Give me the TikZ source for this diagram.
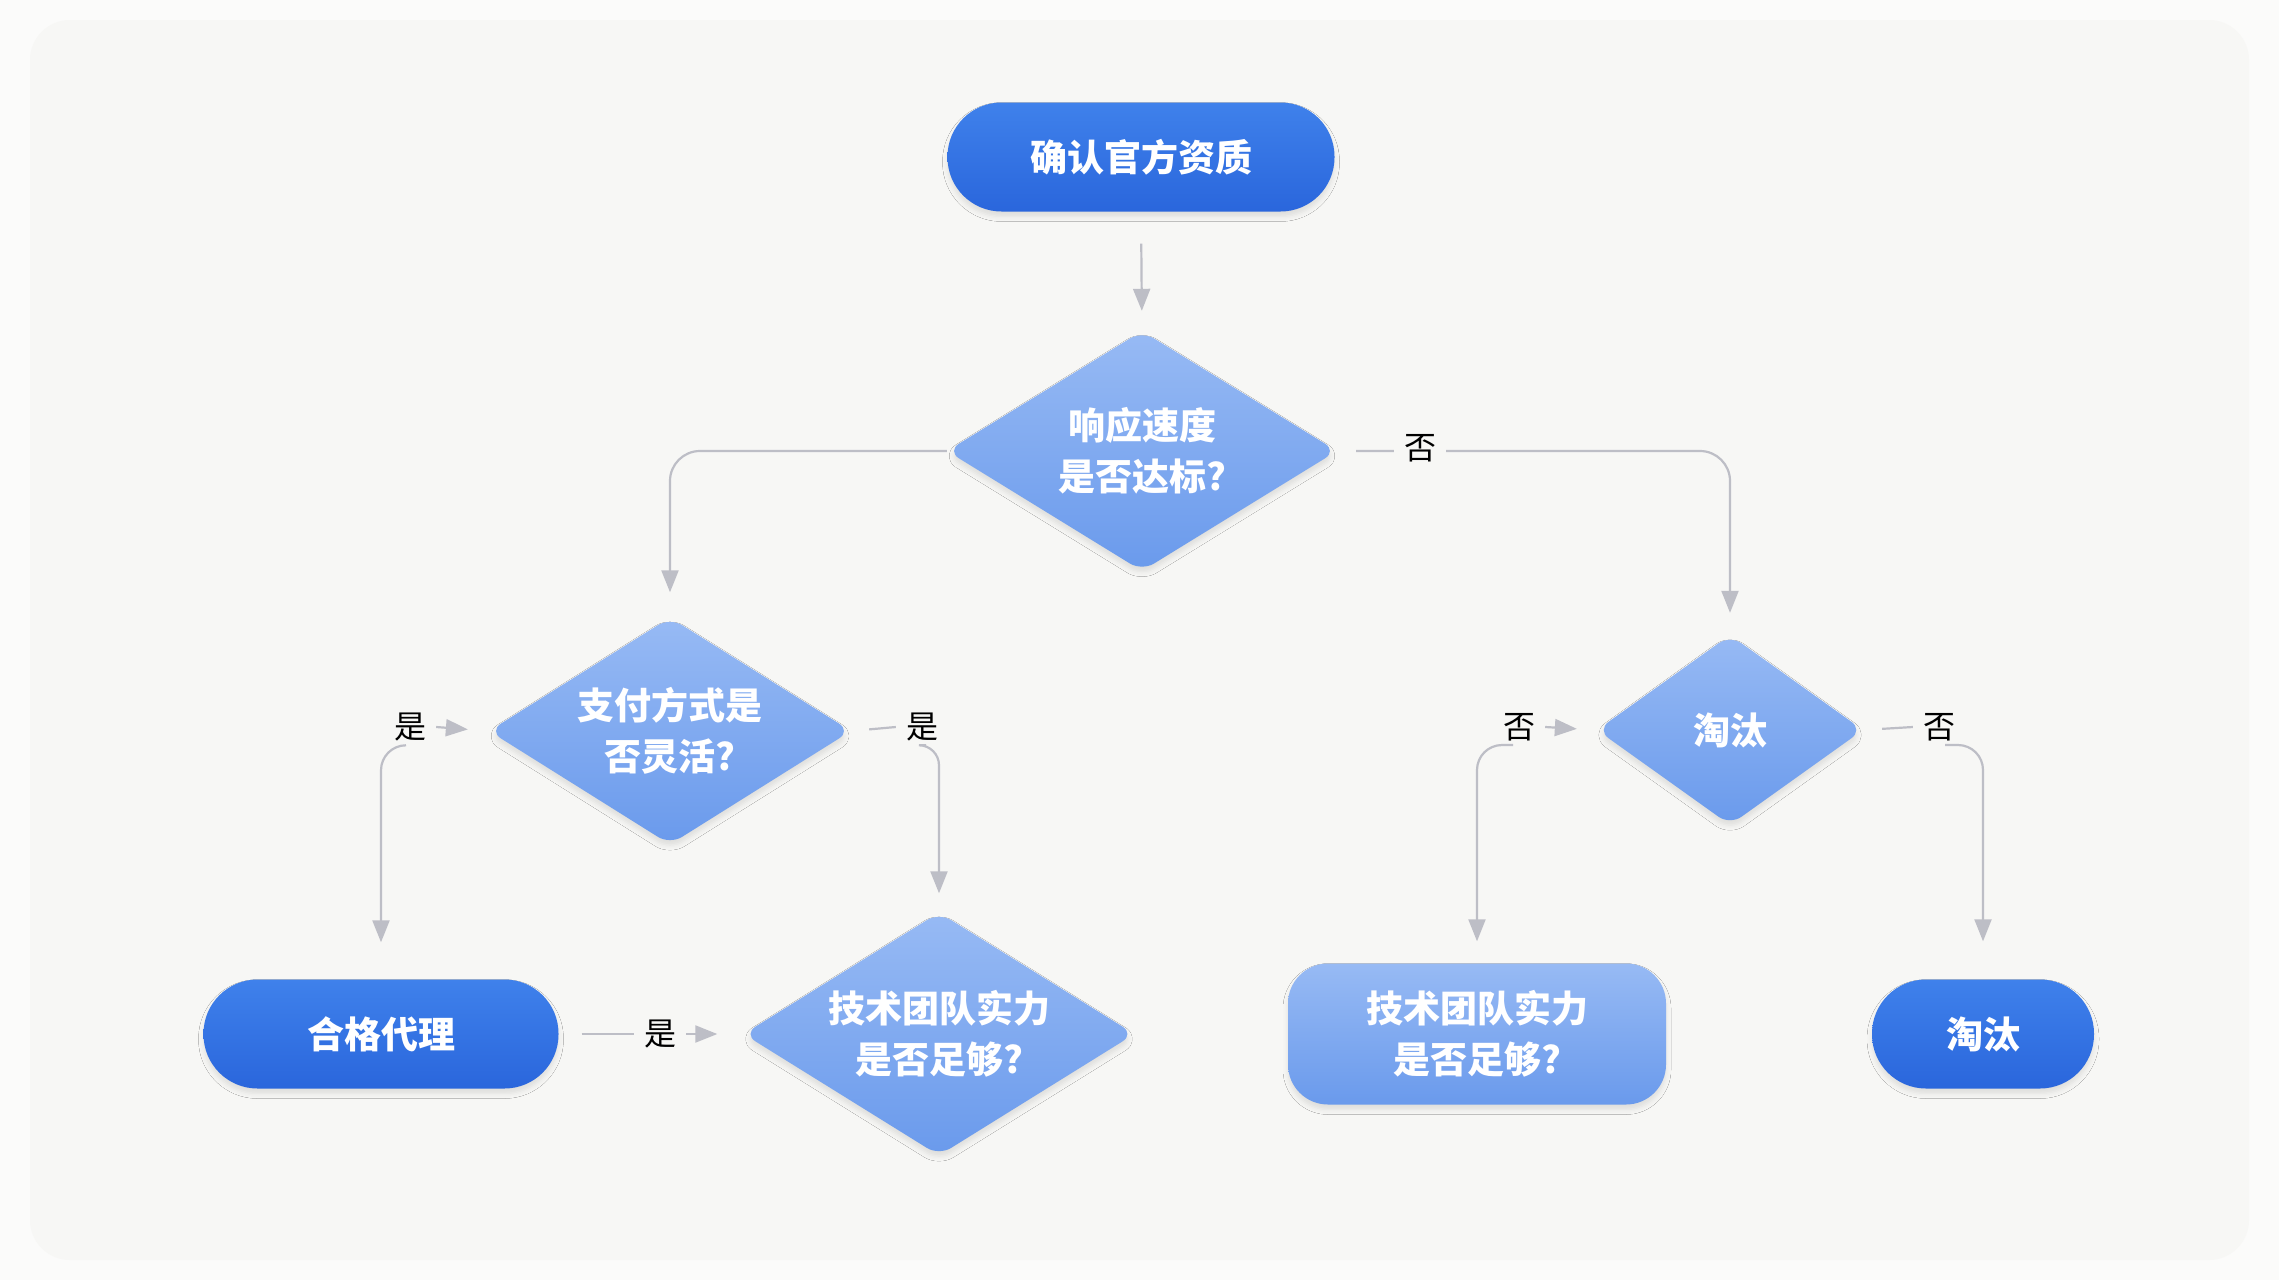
\documentclass[tikz,border=0pt]{standalone}
\usepackage{fontspec}
\newfontfamily\cjk{Noto Sans CJK SC}
\usetikzlibrary{shapes.geometric,arrows.meta,shadows.blur,calc}
\definecolor{bgc}{HTML}{F7F7F5}
\definecolor{bgo}{HTML}{FBFBFA}
\definecolor{pillA}{HTML}{3F81EB}
\definecolor{pillB}{HTML}{2A66DC}
\definecolor{diaA}{HTML}{97BAF4}
\definecolor{diaB}{HTML}{6A9AEC}
\definecolor{conc}{HTML}{BDBEC6}
\tikzset{
  dshadow/.style={blur shadow={shadow xshift=0pt,shadow yshift=-5pt,shadow blur radius=5pt,shadow opacity=10}},
  txt/.style={text=white,font=\cjk\bfseries\fontsize{37}{51}\selectfont,align=center},
  pill/.style={txt,rectangle,rounded corners=54pt,minimum height=109pt,inner sep=0pt,top color=pillA,bottom color=pillB,dshadow},
  dia/.style={txt,diamond,shape aspect=1.6,rounded corners=14pt,inner sep=0pt,top color=diaA,bottom color=diaB,dshadow},
  rbox/.style={txt,rectangle,rounded corners=40pt,minimum width=378pt,minimum height=141pt,inner sep=0pt,top color=diaA,bottom color=diaB,dshadow},
  lbl/.style={font=\cjk\fontsize{32}{32}\selectfont,text=black,fill=bgc,inner xsep=10pt,inner ysep=4pt},
  conn/.style={draw=conc,line width=2.2pt,-{Triangle[length=22pt,width=17pt]}},
  plainln/.style={draw=conc,line width=2.2pt}
}
\begin{document}
\begin{tikzpicture}[x=1pt,y=-1pt]
\useasboundingbox (0,0) rectangle (2279,1280);
\fill[bgo] (0,0) rectangle (2279,1280);
\fill[bgc,rounded corners=40pt] (30,20) rectangle (2249,1260);

% nodes
\node[pill,minimum width=387pt] (top) at (1141,157) {确认官方资质};
\node[dia,minimum width=390pt,minimum height=240pt] (d1) at (1142,451) {响应速度\\是否达标?};
\node[dia,minimum width=362pt,minimum height=227pt] (d2) at (670,731) {支付方式是\\否灵活?};
\node[pill,minimum width=355pt] (hege) at (381,1034) {合格代理};
\node[dia,minimum width=391pt,minimum height=243pt] (d3) at (939,1034) {技术团队实力\\是否足够?};
\node[dia,minimum width=266pt,minimum height=190pt] (d4) at (1730,730) {淘汰};
\node[rbox] (rb) at (1477,1034) {技术团队实力\\是否足够?};
\node[pill,minimum width=222pt] (tt) at (1983,1034) {淘汰};

% connectors
\draw[conn,shorten <=32pt,shorten >=20pt] (top.south) -- (d1.north);
\draw[conn,rounded corners=30pt,shorten >=25pt] (d1.west) -| (d2.north);
\draw[conn,rounded corners=30pt,shorten <=19pt,shorten >=22pt] (d1.east) -| (d4.north);
\node[lbl] (l1) at (1420,448) {否};

\node[lbl] (l2) at (410,727) {是};
\draw[conn,shorten >=21pt] (l2.east) -- (d2.west);
\draw[conn,rounded corners=25pt,shorten >=37pt] ([xshift=-4pt]l2.south) -| (hege.north);

\node[lbl] (l3) at (922,727) {是};
\draw[plainln,shorten <=18pt] (d2.east) -- (l3.west);
\draw[conn,rounded corners=20pt,shorten >=19pt] ([xshift=4pt]l3.south) -| (d3.north);

\draw[conn,shorten <=23pt,shorten >=26pt] (hege.east) -- node[lbl,pos=0.55] (l4) {是} (d3.west);

\node[lbl] (l5) at (1519,727) {否};
\draw[conn,shorten >=20pt] (l5.east) -- (d4.west);
\draw[conn,rounded corners=25pt,shorten >=22pt] ([xshift=-6pt]l5.south) -| (rb.north);

\node[lbl] (l6) at (1939,727) {否};
\draw[plainln,shorten <=19pt] (d4.east) -- (l6.west);
\draw[conn,rounded corners=25pt,shorten >=38pt] ([xshift=6pt]l6.south) -| (tt.north);
\end{tikzpicture}
\end{document}
